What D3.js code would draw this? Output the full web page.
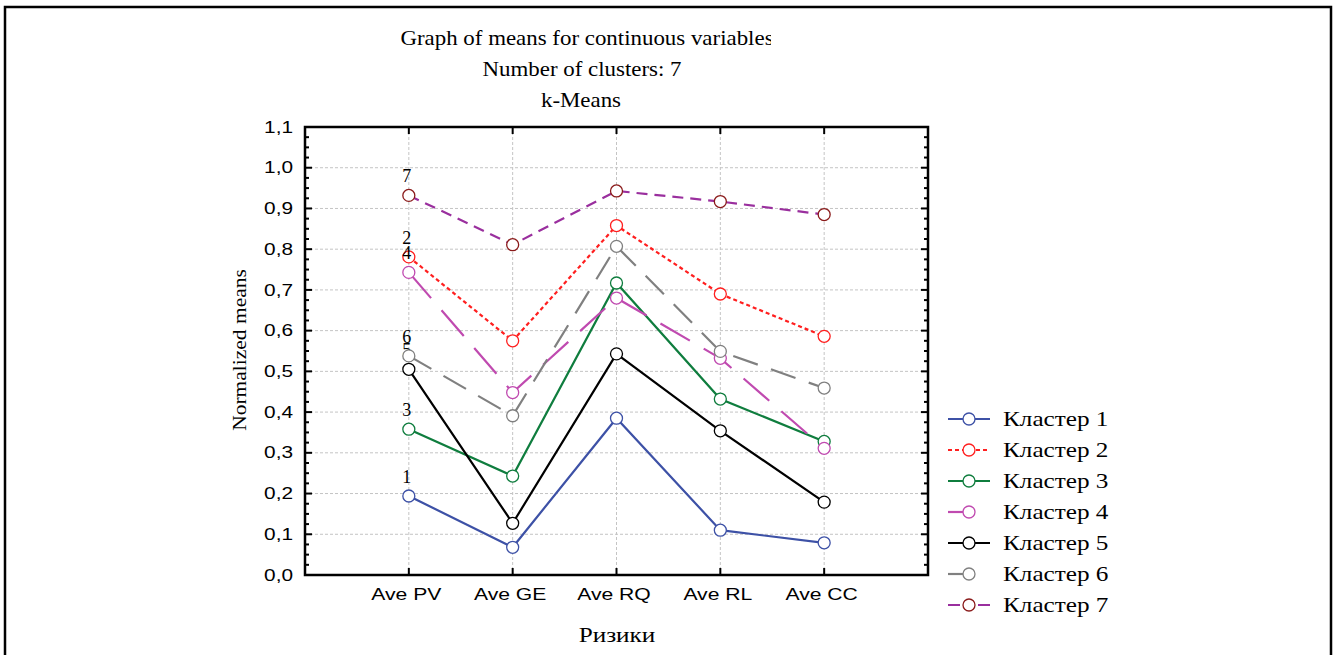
<!DOCTYPE html>
<html><head><meta charset="utf-8">
<script src="https://d3js.org/d3.v7.min.js"></script>
<style>body{margin:0;background:#fff}svg{display:block}</style>
</head><body><svg id="c" width="1336" height="655"></svg>
<script>
const categories = ["Ave PV","Ave GE","Ave RQ","Ave RL","Ave CC"];
const seriesNames = ["Кластер 1","Кластер 2","Кластер 3","Кластер 4","Кластер 5","Кластер 6","Кластер 7"];
const cluster1 = [0.194,0.068,0.385,0.110,0.079];
const cluster2 = [0.781,0.575,0.858,0.690,0.586];
const cluster3 = [0.358,0.243,0.717,0.432,0.328];
const cluster4 = [0.743,0.448,0.680,0.532,0.311];
const cluster5 = [0.505,0.127,0.543,0.354,0.179];
const cluster6 = [0.538,0.391,0.807,0.549,0.459];
const cluster7 = [0.932,0.811,0.943,0.917,0.885];
const yTicks = [0,0.1,0.2,0.3,0.4,0.5,0.6,0.7,0.8,0.9,1.0,1.1];
const titleLines = ["Graph of means for continuous variables","Number of clusters: 7","k-Means"];

const values = [cluster1,cluster2,cluster3,cluster4,cluster5,cluster6,cluster7];
const lineColors = ["#3d51a6","#ff1f1f","#0f7d3e","#c04ab0","#000000","#808080","#9a2f9e"];
const markerColors = ["#3d51a6","#ff1f1f","#0f7d3e","#c04ab0","#000000","#808080","#8a1a1a"];
const dashes = [null,"4,3",null,"34,16",null,"26,14","11,7"];
const legendDashes = [null,"4,3",null,null,null,null,"12,18"];
const legendLine = [[-21,21],[-21,21],[-21,21],[-21,0],[-21,21],[-21,0],[-21,21]];

const SERIF = "Liberation Serif, 'Times New Roman', serif";
const SANS = "Liberation Sans, Arial, sans-serif";
function stretch(sel, f){
  sel.each(function(){
    const w = this.getComputedTextLength();
    d3.select(this).attr("textLength", w*f).attr("lengthAdjust","spacingAndGlyphs");
  });
}

const svg = d3.select("#c");
const L=305, R=928, T=127, B=575;
const x = d3.scalePoint().domain(categories).range([L,R]).padding(1);
const y = d3.scaleLinear().domain([0,1.1]).range([B,T]);

// outer frame
svg.append("rect").attr("x",5).attr("y",7).attr("width",1326).attr("height",660)
  .attr("fill","none").attr("stroke","#000").attr("stroke-width",2.5);

// titles
svg.append("clipPath").attr("id","tclip").append("rect").attr("x",300).attr("y",10).attr("width",471).attr("height",110);
const tt = svg.append("g").attr("clip-path","url(#tclip)");
const titleX = [587,582,581];
titleLines.forEach((t,i)=>{
  const el = tt.append("text").attr("x",titleX[i]).attr("y",45+i*31).attr("text-anchor","middle")
    .attr("font-family",SERIF).attr("font-size",21).text(t);
  stretch(el,1.09);
});

// grid
const g = svg.append("g");
g.selectAll(".gy").data(yTicks.slice(1,-1)).join("line")
  .attr("x1",L).attr("x2",R).attr("y1",d=>y(d)).attr("y2",d=>y(d))
  .attr("stroke","#c4c4c4").attr("stroke-dasharray","3,2").attr("stroke-width",1);
g.selectAll(".gx").data(categories).join("line")
  .attr("x1",d=>x(d)).attr("x2",d=>x(d)).attr("y1",T).attr("y2",B)
  .attr("stroke","#c4c4c4").attr("stroke-dasharray","3,2").attr("stroke-width",1);

// ticks (inside)
const minor = d3.range(0,1.1001,0.025);
const tk = svg.append("g");
minor.forEach(v=>{
  const major = Math.abs(v*10-Math.round(v*10))<1e-6;
  const len = major?7:4;
  tk.append("line").attr("x1",L).attr("x2",L+len).attr("y1",y(v)).attr("y2",y(v)).attr("stroke","#000").attr("stroke-width",2);
  tk.append("line").attr("x1",R).attr("x2",R-len).attr("y1",y(v)).attr("y2",y(v)).attr("stroke","#000").attr("stroke-width",2);
});
categories.forEach(c=>{
  tk.append("line").attr("x1",x(c)).attr("x2",x(c)).attr("y1",B).attr("y2",B-7).attr("stroke","#000").attr("stroke-width",2);
  tk.append("line").attr("x1",x(c)).attr("x2",x(c)).attr("y1",T).attr("y2",T+7).attr("stroke","#000").attr("stroke-width",2);
});
svg.append("rect").attr("x",L).attr("y",T).attr("width",R-L).attr("height",B-T)
  .attr("fill","none").attr("stroke","#000").attr("stroke-width",2.5);

// y tick labels
const yAxis = d3.axisLeft(y).tickValues(yTicks).tickSize(0).tickPadding(12)
  .tickFormat(d=>d3.format(".1f")(d).replace(".",","));
const ya = svg.append("g").attr("transform",`translate(${L},0)`).call(yAxis);
ya.select(".domain").remove();
ya.selectAll("text").attr("font-family",SANS).attr("font-size",16).attr("fill","#000");
stretch(ya.selectAll("text"),1.3);
const xAxis = d3.axisBottom(x).tickSize(0).tickPadding(14);
const xa = svg.append("g").attr("transform",`translate(-3,${B})`).call(xAxis);
xa.select(".domain").remove();
xa.selectAll("text").attr("font-family",SANS).attr("font-size",16).attr("fill","#000");
stretch(xa.selectAll("text"),1.32);

// axis titles
const yl = svg.append("text").attr("transform","translate(246,350) rotate(-90)").attr("text-anchor","middle")
  .attr("font-family",SERIF).attr("font-size",19).text("Normalized means");
stretch(yl,1.13);
const xl = svg.append("text").attr("x",617).attr("y",642).attr("text-anchor","middle")
  .attr("font-family",SERIF).attr("font-size",21).text("Ризики");
stretch(xl,1.2);

// series
const line = d3.line().x((d,i)=>x(categories[i])).y(d=>y(d));
values.forEach((vals,s)=>{
  const p = svg.append("path").attr("d",line(vals)).attr("fill","none")
    .attr("stroke",lineColors[s]).attr("stroke-width",2.2);
  if(dashes[s]) p.attr("stroke-dasharray",dashes[s]);
});
values.forEach((vals,s)=>{
  svg.selectAll(null).data(vals).join("circle")
    .attr("cx",(d,i)=>x(categories[i])).attr("cy",d=>y(d)).attr("r",6)
    .attr("fill","#fff").attr("stroke",markerColors[s]).attr("stroke-width",1.3);
  svg.append("text").attr("x",x(categories[0])-2).attr("y",y(vals[0])-13)
    .attr("text-anchor","middle").attr("font-family",SERIF).attr("font-size",18)
    .text(String(s+1));
});

// legend
const lg = svg.append("g").attr("transform","translate(969,419)");
seriesNames.forEach((n,s)=>{
  const row = lg.append("g").attr("transform",`translate(0,${s*31})`);
  const ln = row.append("line").attr("x1",legendLine[s][0]).attr("x2",legendLine[s][1]).attr("y1",0).attr("y2",0)
    .attr("stroke",lineColors[s]).attr("stroke-width",2.2);
  if(legendDashes[s]) ln.attr("stroke-dasharray",legendDashes[s]);
  row.append("circle").attr("r",6).attr("fill","#fff").attr("stroke",markerColors[s]).attr("stroke-width",1.3);
  const t = row.append("text").attr("x",34).attr("y",7).attr("font-family",SERIF).attr("font-size",21).text(n);
  stretch(t,1.2);
});
</script></body></html>
